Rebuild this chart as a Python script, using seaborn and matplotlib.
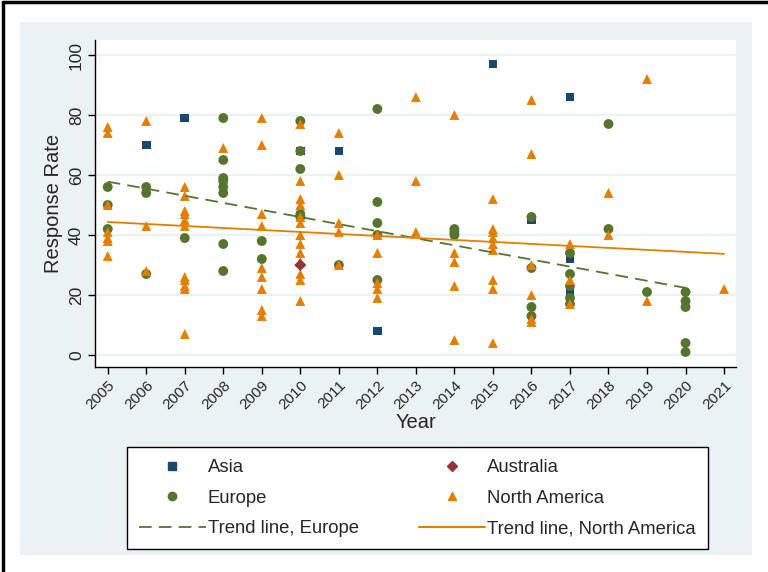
import matplotlib
matplotlib.use("Agg")
import matplotlib.pyplot as plt
from matplotlib.lines import Line2D
from matplotlib.patches import Rectangle
import seaborn as sns
import pandas as pd

# Response rate by publication year, grouped by region
asia_year = [2006, 2007, 2010, 2011, 2012, 2015, 2016, 2017, 2017, 2017]
asia_rate = [70, 79, 68, 68, 8, 97, 45, 86, 32, 21]

australia_year = [2010]
australia_rate = [30]

europe_year = [2005, 2005, 2005,
               2006, 2006, 2006,
               2007,
               2008, 2008, 2008, 2008, 2008, 2008, 2008, 2008,
               2009, 2009,
               2010, 2010, 2010, 2010, 2010,
               2011,
               2012, 2012, 2012, 2012, 2012,
               2014, 2014, 2014,
               2016, 2016, 2016, 2016,
               2017, 2017, 2017, 2017, 2017,
               2018, 2018,
               2019,
               2020, 2020, 2020, 2020, 2020]
europe_rate = [56, 50, 42,
               56, 54, 27,
               39,
               79, 65, 59, 58, 56, 54, 37, 28,
               38, 32,
               78, 68, 62, 47, 46,
               30,
               82, 51, 44, 40, 25,
               42, 41, 40,
               46, 29, 16, 13,
               34, 27, 23, 19, 17,
               77, 42,
               21,
               21, 18, 16, 4, 1]

namerica_year = [2005] * 7 + [2006] * 3 + [2007] * 11 + [2008] + [2009] * 9 \
    + [2010] * 13 + [2011] * 5 + [2012] * 5 + [2013] * 3 + [2014] * 5 \
    + [2015] * 9 + [2016] * 6 + [2017] * 3 + [2018] * 2 + [2019] * 2 + [2021]
namerica_rate = [76, 74, 50, 41, 39, 38, 33,
                 78, 43, 28,
                 56, 53, 48, 47, 45, 43, 26, 25, 23, 22, 7,
                 69,
                 79, 70, 47, 43, 29, 26, 22, 15, 13,
                 77, 58, 52, 50, 46, 44, 40, 37, 34, 31, 27, 25, 18,
                 74, 60, 44, 41, 30,
                 40, 34, 24, 22, 19,
                 86, 58, 41,
                 80, 34, 31, 23, 5,
                 52, 42, 41, 39, 37, 35, 25, 22, 4,
                 85, 67, 30, 20, 12, 11,
                 37, 25, 17,
                 54, 40,
                 92, 18,
                 22]

years = list(range(2005, 2022))
y_ticks = [0, 20, 40, 60, 80, 100]

NAVY = "#1A476F"
MAROON = "#90353B"
GREEN = "#55752F"
ORANGE = "#E37E00"
PANEL = "#EAF2F3"

sns.set_theme(style="white")
plt.rcParams["font.family"] = ["Liberation Sans", "DejaVu Sans"]

asia = pd.DataFrame({"Year": asia_year, "Rate": asia_rate})
aus = pd.DataFrame({"Year": australia_year, "Rate": australia_rate})
eur = pd.DataFrame({"Year": europe_year, "Rate": europe_rate})
nam = pd.DataFrame({"Year": namerica_year, "Rate": namerica_rate})

fig = plt.figure(figsize=(7.68, 5.72), dpi=100, facecolor="white")

# light background panel and outer frame
fig.patches.append(Rectangle((20 / 768, 1 - 555 / 572), 732 / 768, 533 / 572,
                             transform=fig.transFigure, facecolor=PANEL,
                             edgecolor="none", zorder=-5))
fig.add_artist(Line2D([0.004, 0.004], [0, 0.996], transform=fig.transFigure,
                      color="black", lw=2.5, zorder=-4))
fig.add_artist(Line2D([0.004, 1], [0.996, 0.996], transform=fig.transFigure,
                      color="black", lw=2.5, zorder=-4))

ax = fig.add_axes([95 / 768, 1 - 367 / 572, 641 / 768, 327 / 572])
ax.set_zorder(2)
ax.set_facecolor("white")

ms = 42
sns.scatterplot(data=asia, x="Year", y="Rate", ax=ax, marker="s", s=ms * 0.9,
                color=NAVY, edgecolor="none", zorder=3)
sns.scatterplot(data=eur, x="Year", y="Rate", ax=ax, marker="o", s=ms * 1.2,
                color=GREEN, edgecolor="none", zorder=4)
sns.scatterplot(data=nam, x="Year", y="Rate", ax=ax, marker="^", s=ms * 1.2,
                color=ORANGE, edgecolor="none", zorder=5)
sns.scatterplot(data=aus, x="Year", y="Rate", ax=ax, marker="D", s=ms * 0.9,
                color=MAROON, edgecolor="none", zorder=6)

# linear trend lines
sns.regplot(data=eur, x="Year", y="Rate", ax=ax, scatter=False, ci=None,
            truncate=True, line_kws=dict(color=GREEN, lw=1.3, ls=(0, (7, 4)),
                                         zorder=7))
sns.regplot(data=nam, x="Year", y="Rate", ax=ax, scatter=False, ci=None,
            truncate=True, line_kws=dict(color=ORANGE, lw=1.3, zorder=7))

ax.set_xlim(2004.67, 2021.31)
ax.set_ylim(-4, 105)
ax.set_xticks(years)
ax.set_xticklabels([str(y) for y in years], rotation=45, ha="right",
                   rotation_mode="anchor", fontsize=11)
ax.set_yticks(y_ticks)
ax.set_yticklabels([str(v) for v in y_ticks], rotation=90, va="center",
                   fontsize=12.5)
ax.grid(axis="y", color=PANEL, lw=1.6)
ax.set_axisbelow(True)
for side in ("top", "right"):
    ax.spines[side].set_visible(False)
for side in ("left", "bottom"):
    ax.spines[side].set_color("black")
    ax.spines[side].set_linewidth(1.0)
ax.tick_params(axis="both", which="major", direction="out", length=5,
               width=1, color="black", left=True, bottom=True, pad=3)
ax.set_xlabel("Year", fontsize=14.5, labelpad=1)
ax.set_ylabel("Response Rate", fontsize=14.5, labelpad=4)

handles = [
    Line2D([], [], ls="none", marker="s", ms=5.5, color=NAVY),
    Line2D([], [], ls="none", marker="o", ms=6, color=GREEN),
    Line2D([], [], color=GREEN, lw=1.3, ls=(0, (7, 4))),
    Line2D([], [], ls="none", marker="D", ms=5.5, color=MAROON),
    Line2D([], [], ls="none", marker="^", ms=6, color=ORANGE),
    Line2D([], [], color=ORANGE, lw=1.5),
]
labels = ["Asia", "Europe", "Trend line, Europe",
          "Australia", "North America", "Trend line, North America"]
leg = fig.legend(handles, labels, ncol=2, loc="upper left",
                 bbox_to_anchor=(127 / 768, 1 - 447 / 572),
                 bbox_transform=fig.transFigure, fontsize=13.3,
                 frameon=True, fancybox=False, edgecolor="black",
                 facecolor="white", framealpha=1, handlelength=3.6,
                 handletextpad=0.1, columnspacing=3.27, labelspacing=0.73,
                 borderpad=0.66, borderaxespad=0)
leg.get_frame().set_linewidth(1.0)
leg.set_zorder(3)

fig.savefig("out.png", dpi=100, facecolor="white")
